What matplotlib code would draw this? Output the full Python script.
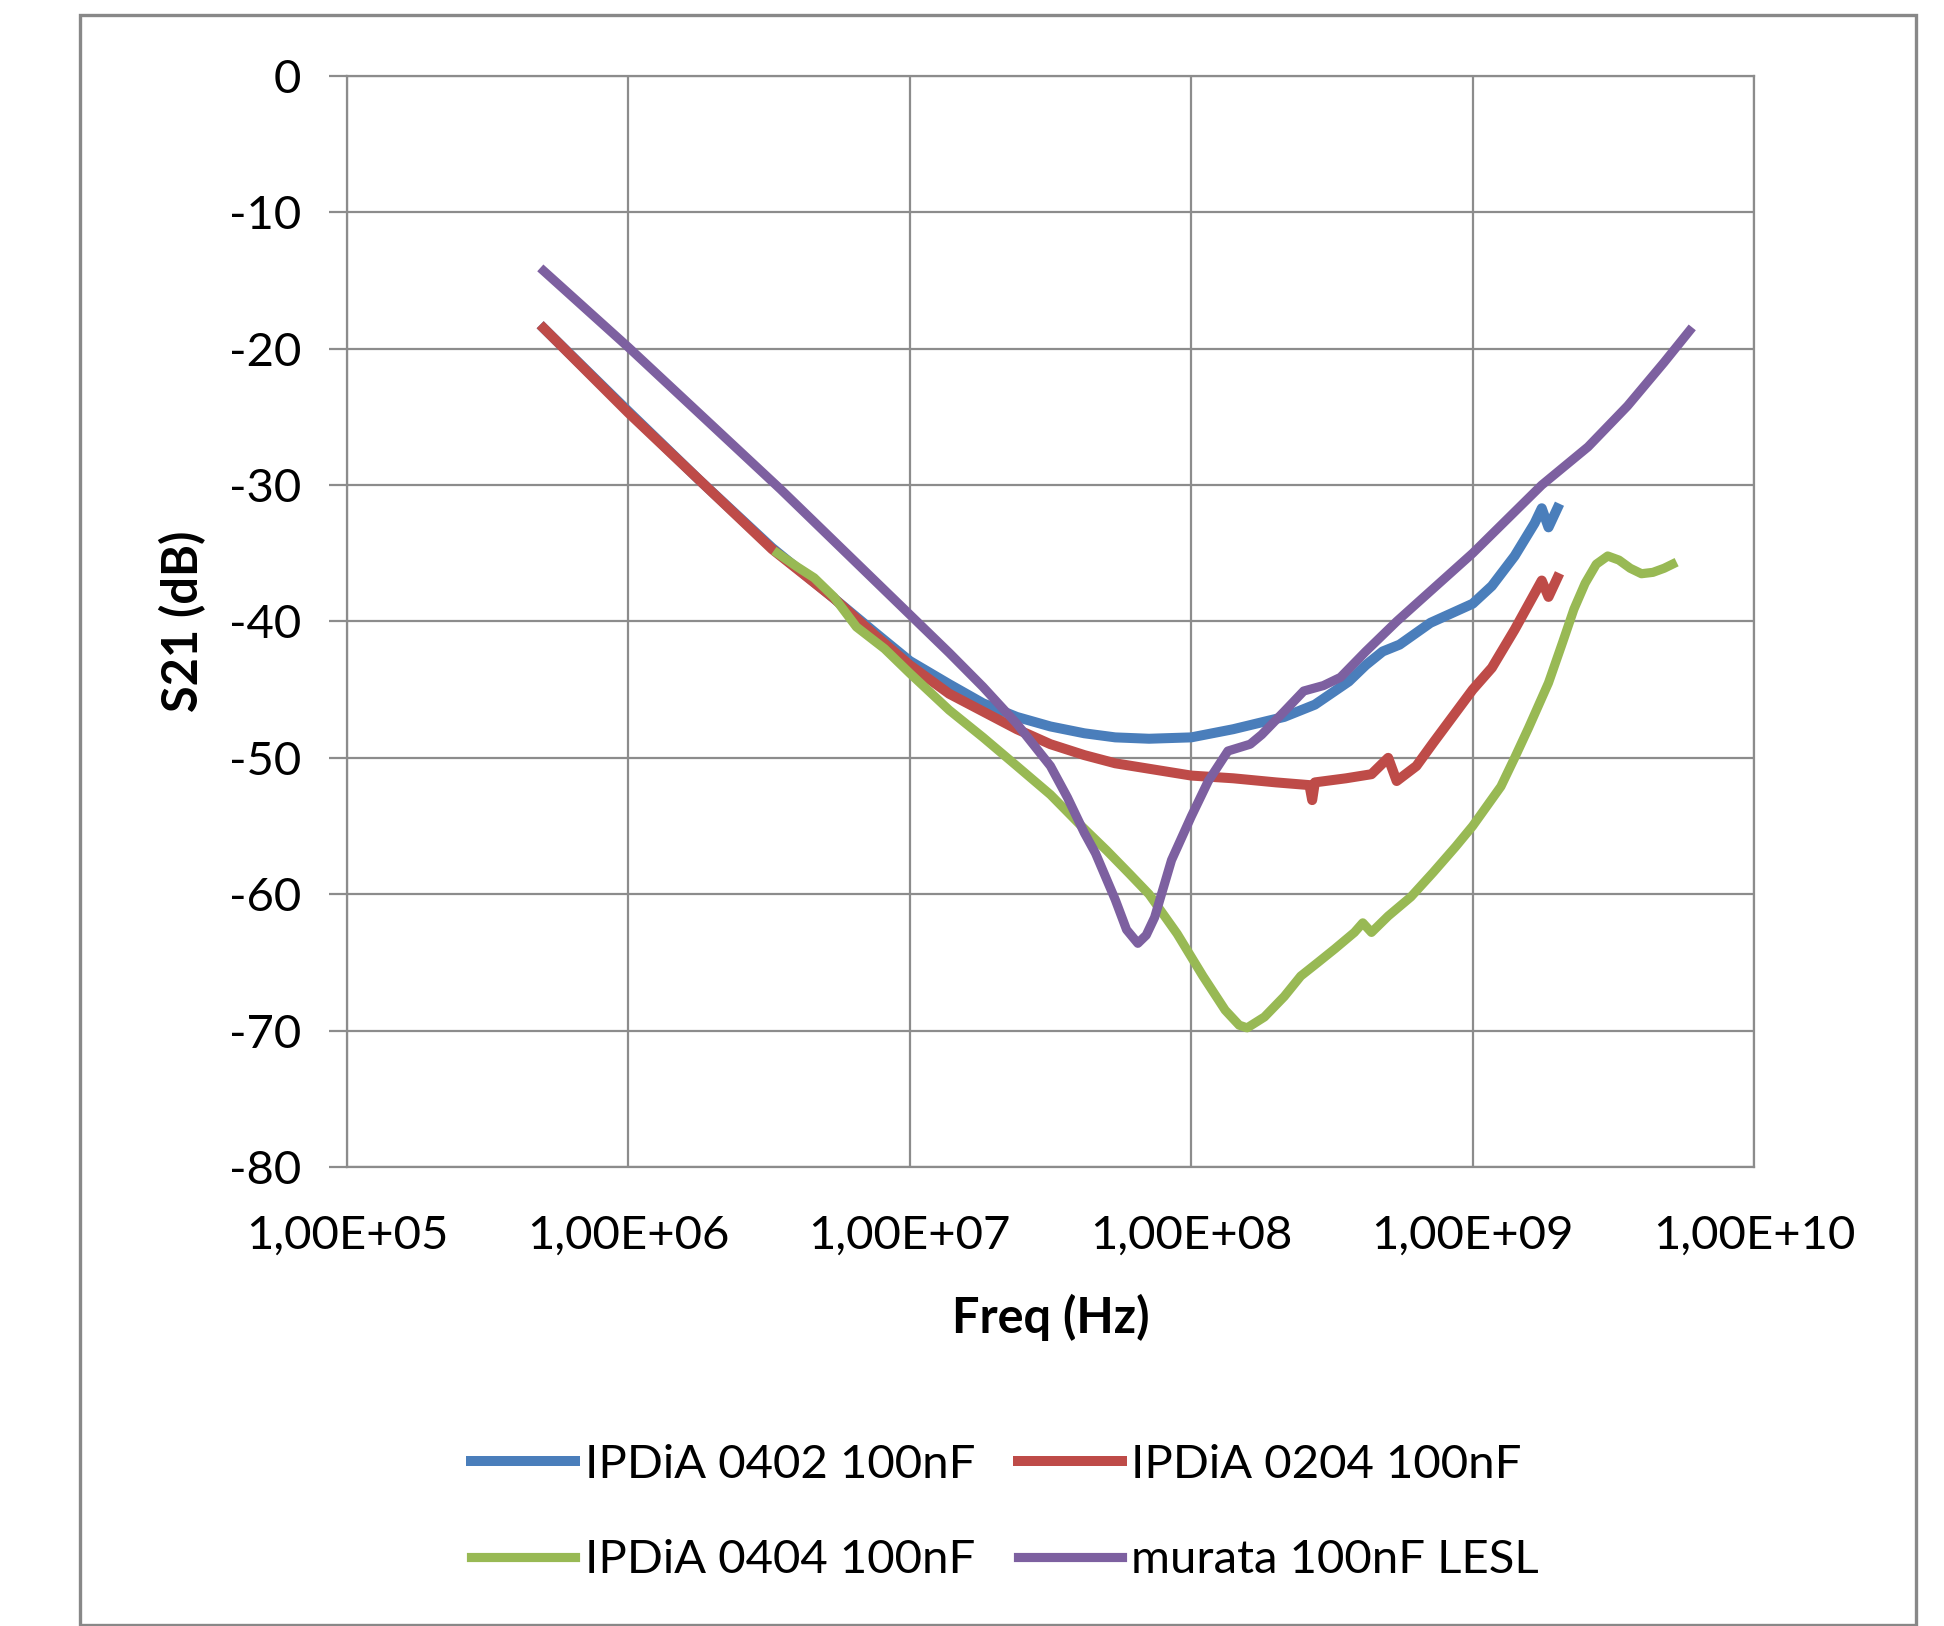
import matplotlib
matplotlib.use("Agg")
import matplotlib.pyplot as plt
from matplotlib.patches import Rectangle
from matplotlib.ticker import FixedLocator, FuncFormatter, NullLocator

plt.rcParams['font.family'] = ['Lato', 'DejaVu Sans']
plt.rcParams['axes.unicode_minus'] = False

# S21 (dB) vs frequence (Hz)
f_0402 = [5.0e5, 1.0e6, 1.78e6, 3.24e6, 5.37e6, 7.41e6, 1.0e7, 1.38e7, 1.82e7, 2.4e7,
          3.16e7, 4.17e7, 5.37e7, 7.08e7, 1.0e8, 1.41e8, 1.86e8, 2.14e8, 2.75e8, 3.63e8,
          4.17e8, 4.79e8, 5.5e8, 7.08e8, 1.0e9, 1.17e9, 1.41e9, 1.66e9, 1.76e9, 1.86e9, 2.0e9]
s_0402 = [-18.5, -24.6, -29.6, -34.6, -38.3, -40.7, -42.9, -44.6, -46.0, -47.0,
          -47.7, -48.2, -48.5, -48.6, -48.5, -47.9, -47.3, -47.0, -46.1, -44.4,
          -43.2, -42.2, -41.7, -40.1, -38.7, -37.4, -35.2, -32.8, -31.7, -33.1, -31.7]

f_0204 = [5.0e5, 1.0e6, 1.78e6, 3.24e6, 5.37e6, 7.41e6, 1.0e7, 1.38e7, 1.82e7, 2.4e7,
          3.16e7, 4.17e7, 5.37e7, 7.08e7, 1.0e8, 1.41e8, 2.0e8, 2.63e8, 2.69e8, 2.75e8,
          3.55e8, 4.37e8, 5.01e8, 5.37e8, 6.31e8, 7.24e8, 8.13e8, 1.0e9, 1.17e9, 1.41e9,
          1.76e9, 1.86e9, 2.0e9]
s_0204 = [-18.5, -24.7, -29.6, -34.7, -38.3, -40.9, -43.2, -45.3, -46.6, -47.9,
          -49.0, -49.8, -50.4, -50.8, -51.3, -51.5, -51.8, -52.0, -53.1, -51.8,
          -51.5, -51.2, -50.0, -51.7, -50.6, -48.9, -47.5, -45.0, -43.4, -40.6,
          -37.0, -38.2, -36.8]

f_0404 = [3.39e6, 3.98e6, 4.57e6, 5.37e6, 6.46e6, 8.13e6, 1.0e7, 1.38e7, 1.82e7, 2.4e7,
          3.16e7, 3.98e7, 5.01e7, 6.03e7, 7.08e7, 8.91e7, 1.1e8, 1.32e8, 1.48e8, 1.58e8,
          1.82e8, 2.14e8, 2.45e8, 2.82e8, 3.24e8, 3.8e8, 4.07e8, 4.37e8, 5.01e8, 6.03e8,
          7.24e8, 8.71e8, 1.0e9, 1.26e9, 1.41e9, 1.58e9, 1.86e9, 2.09e9, 2.29e9, 2.51e9,
          2.75e9, 3.02e9, 3.31e9, 3.63e9, 3.98e9, 4.37e9, 4.79e9, 5.13e9]
s_0404 = [-35.0, -36.0, -36.8, -38.2, -40.4, -42.0, -43.8, -46.5, -48.5, -50.6,
          -52.7, -54.8, -56.8, -58.5, -60.0, -62.9, -66.0, -68.5, -69.6, -69.8,
          -69.0, -67.5, -66.0, -65.0, -64.0, -62.8, -62.1, -62.8, -61.6, -60.2,
          -58.4, -56.5, -55.0, -52.1, -50.0, -47.8, -44.5, -41.5, -39.1, -37.2,
          -35.8, -35.2, -35.5, -36.1, -36.5, -36.4, -36.1, -35.8]

f_murata = [5.0e5, 1.0e6, 3.47e6, 1.0e7, 1.38e7, 1.82e7, 2.4e7, 3.16e7, 3.63e7, 4.17e7,
            4.57e7, 5.37e7, 5.89e7, 6.46e7, 6.92e7, 7.41e7, 8.51e7, 1.0e8, 1.15e8, 1.35e8,
            1.62e8, 1.78e8, 2.14e8, 2.51e8, 2.95e8, 3.39e8, 4.17e8, 5.37e8, 6.31e8,
            1.0e9, 1.76e9, 2.57e9, 3.55e9, 4.79e9, 5.89e9]
s_murata = [-14.3, -19.9, -30.3, -39.5, -42.3, -44.8, -47.5, -50.6, -52.9, -55.5,
            -57.0, -60.4, -62.6, -63.6, -63.0, -61.7, -57.5, -54.3, -51.7, -49.5,
            -49.0, -48.3, -46.6, -45.1, -44.7, -44.1, -42.2, -40.0, -38.7,
            -35.0, -30.0, -27.2, -24.2, -21.0, -18.7]

labels = ['IPDiA 0402 100nF', 'IPDiA 0204 100nF', 'IPDiA 0404 100nF', 'murata 100nF LESL']
colors = ['#4A7EBB', '#BE4B48', '#98B954', '#7D60A0']
grey = '#8C8C8C'

fig = plt.figure(figsize=(9.72, 8.13), dpi=200)
fig.patches.append(Rectangle((80 / 1944, 0.0008), 1836 / 1944, 0.99, transform=fig.transFigure,
                             fill=False, edgecolor='#888888', linewidth=1.2))

ax = fig.add_axes([0.1785, 0.2823, 0.7238, 0.6710])
l1, = ax.plot(f_0402, s_0402, color=colors[0], lw=3.6, label=labels[0])
l2, = ax.plot(f_0204, s_0204, color=colors[1], lw=3.6, label=labels[1])
l3, = ax.plot(f_0404, s_0404, color=colors[2], lw=3.3, label=labels[2])
l4, = ax.plot(f_murata, s_murata, color=colors[3], lw=3.3, label=labels[3])

ax.set_xscale('log')
ax.set_xlim(1e5, 1e10)
ax.set_ylim(-80, 0)
ax.xaxis.set_major_locator(FixedLocator([1e5, 1e6, 1e7, 1e8, 1e9, 1e10]))
ax.xaxis.set_minor_locator(NullLocator())
ax.xaxis.set_major_formatter(FuncFormatter(lambda v, p: f"{v:.2E}".replace('.', ',')))
ax.set_yticks(range(-80, 1, 10))

ax.grid(True, color=grey, lw=0.8)
ax.set_axisbelow(True)
for s in ax.spines.values():
    s.set_color(grey)
    s.set_linewidth(0.8)
ax.tick_params(axis='y', direction='out', length=6.5, width=0.8, color=grey, pad=10, labelsize=17)
ax.tick_params(axis='x', length=0, pad=17, labelsize=17)

ax.set_xlabel('Freq (Hz)', fontweight='bold', fontsize=17.5)
ax.set_ylabel('S21 (dB)', fontweight='bold', fontsize=17.5)
ax.xaxis.label.set_va('center')
ax.yaxis.label.set_va('center')
ax.xaxis.set_label_coords(0.5, -0.1375)
ax.yaxis.set_label_coords(-0.117, 0.5)

fig.legend([l1, l3, l2, l4], [labels[0], labels[2], labels[1], labels[3]],
           loc='center', bbox_to_anchor=(0.517, 0.0698), ncol=2, frameon=False,
           fontsize=17, handlelength=2.2, handletextpad=0.2, columnspacing=0.9,
           labelspacing=1.14)

fig.savefig('out.png', dpi=200)
